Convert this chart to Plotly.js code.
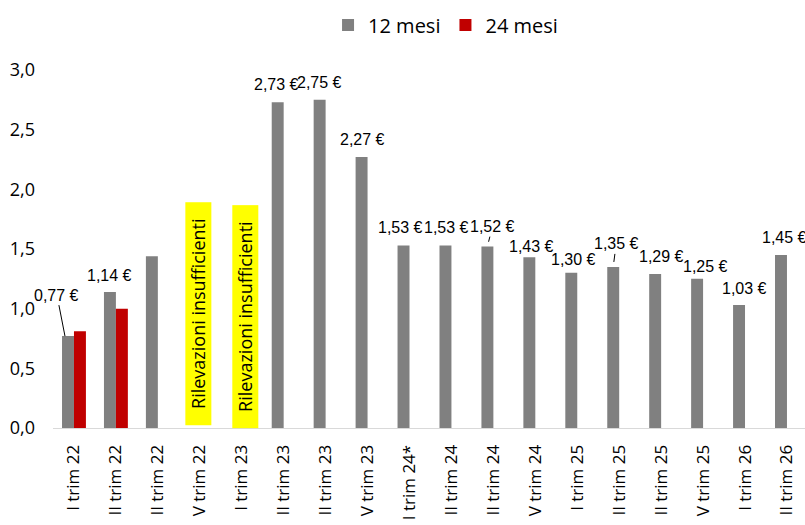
<!DOCTYPE html>
<html>
<head>
<meta charset="utf-8">
<script src="https://cdn.plot.ly/plotly-3.0.1.min.js"></script>
<style>html,body{margin:0;padding:0;overflow:hidden;background:#fff;}#chart{width:805px;height:525px;}</style>
</head>
<body>
<div id="chart"></div>
<script>
// Categories (full labels) and the tick text as visible in the picture
const categories = ["I trim 22","II trim 22","III trim 22","IV trim 22","I trim 23","II trim 23","III trim 23","IV trim 23","I trim 24*","II trim 24","III trim 24","IV trim 24","I trim 25","II trim 25","III trim 25","IV trim 25","I trim 26","II trim 26"];
const tickLabels = ["I trim 22","II trim 22","II trim 22","V trim 22","I trim 23","II trim 23","II trim 23","V trim 23","I trim 24*","II trim 24","II trim 24","V trim 24","I trim 25","II trim 25","II trim 25","V trim 25","I trim 26","II trim 26"];
const mesi12 = [0.77,1.14,1.44,null,null,2.73,2.75,2.27,1.53,1.53,1.52,1.43,1.30,1.35,1.29,1.25,1.03,1.45];
const mesi24 = [0.81,1.00,null,null,null,null,null,null,null,null,null,null,null,null,null,null,null,null];
const showLabel = [true,true,false,false,false,true,true,true,true,true,true,true,true,true,true,true,true,true];
const noteText = "Rilevazioni insufficienti";
const noteCategories = ["IV trim 22","I trim 23"];

// label placement (style only)
const labelDx = [-9,0,0,0,0,-1,0,1,-3,1,5,2,2,3,6,8,5,4];
const labelDy = [-41,-16,0,0,0,-18,-17,-18,-18,-18,-20,-11,-13,-23,-18,-12,-17,-17];
const leader = [true,false,false,false,false,false,false,false,false,false,true,false,false,true,false,false,false,false];

const GRAY = "#808080", RED = "#C00000";
const fmt = v => v.toFixed(2).replace(".", ",") + " €";

const traces = [
  {type:"bar", name:"12 mesi", x:categories, y:mesi12, marker:{color:GRAY}, hoverinfo:"skip"},
  {type:"bar", name:"24 mesi", x:categories, y:mesi24, marker:{color:RED}, hoverinfo:"skip"}
];

const annotations = [];
categories.forEach((c,i) => {
  if (!showLabel[i] || mesi12[i] == null) return;
  const base = {x:c, y:mesi12[i], xref:"x", yref:"y", text:fmt(mesi12[i]),
    font:{family:"Liberation Sans, Arial, sans-serif", size:16, color:"#000"}};
  if (leader[i]) {
    const gx = i === 0 ? -9 : -6;
    annotations.push(Object.assign(base, {showarrow:true, arrowhead:0, arrowwidth:1, arrowcolor:"#000",
      xshift:gx, ax:(i===0? -8 : labelDx[i]), ay:labelDy[i], standoff:(i===0?0:5), axref:"pixel", ayref:"pixel"}));
  } else {
    annotations.push(Object.assign(base, {showarrow:false, xshift:-6 + labelDx[i], yshift:-labelDy[i], yanchor:"middle"}));
  }
});
const noteY = [0.96, 0.935];
const noteShift = [-1, 4];
noteCategories.forEach((c,k) => {
  annotations.push({x:c, y:noteY[k], xref:"x", yref:"y", text:noteText, showarrow:false, textangle:-90,
    width:219, height:22, bgcolor:"#FFFF00", borderwidth:0, borderpad:2, xshift:noteShift[k],
    font:{family:"Open Sans, sans-serif", size:18, color:"#000"}});
});

const layout = {
  width:805, height:525,
  margin:{l:53, r:0, t:70, b:97},
  barmode:"group", bargap:0.43, bargroupgap:0,
  separators:",.",
  paper_bgcolor:"#fff", plot_bgcolor:"#fff",
  showlegend:true,
  legend:{orientation:"h", x:0.522, xanchor:"center", y:1.126, yanchor:"middle",
    font:{family:"Open Sans, sans-serif", size:20, color:"#000"}, itemgap:24, itemwidth:30},
  xaxis:{type:"category", range:[-0.5,17.43], tickvals:categories, ticktext:tickLabels, tickangle:-90,
    showline:true, linecolor:"#d9d9d9", linewidth:1, ticks:"", showgrid:false, zeroline:false,
    ticklabelstandoff:9, tickfont:{family:"Open Sans, sans-serif", size:17, color:"#000"}},
  yaxis:{range:[0,3], dtick:0.5, tickformat:".1f", showline:false, ticks:"", showgrid:false, zeroline:false,
    ticklabelstandoff:17, tickfont:{family:"Open Sans, sans-serif", size:18, color:"#000"}},
  annotations:annotations
};

Plotly.newPlot("chart", traces, layout, {displayModeBar:false, staticPlot:true});
</script>
</body>
</html>
